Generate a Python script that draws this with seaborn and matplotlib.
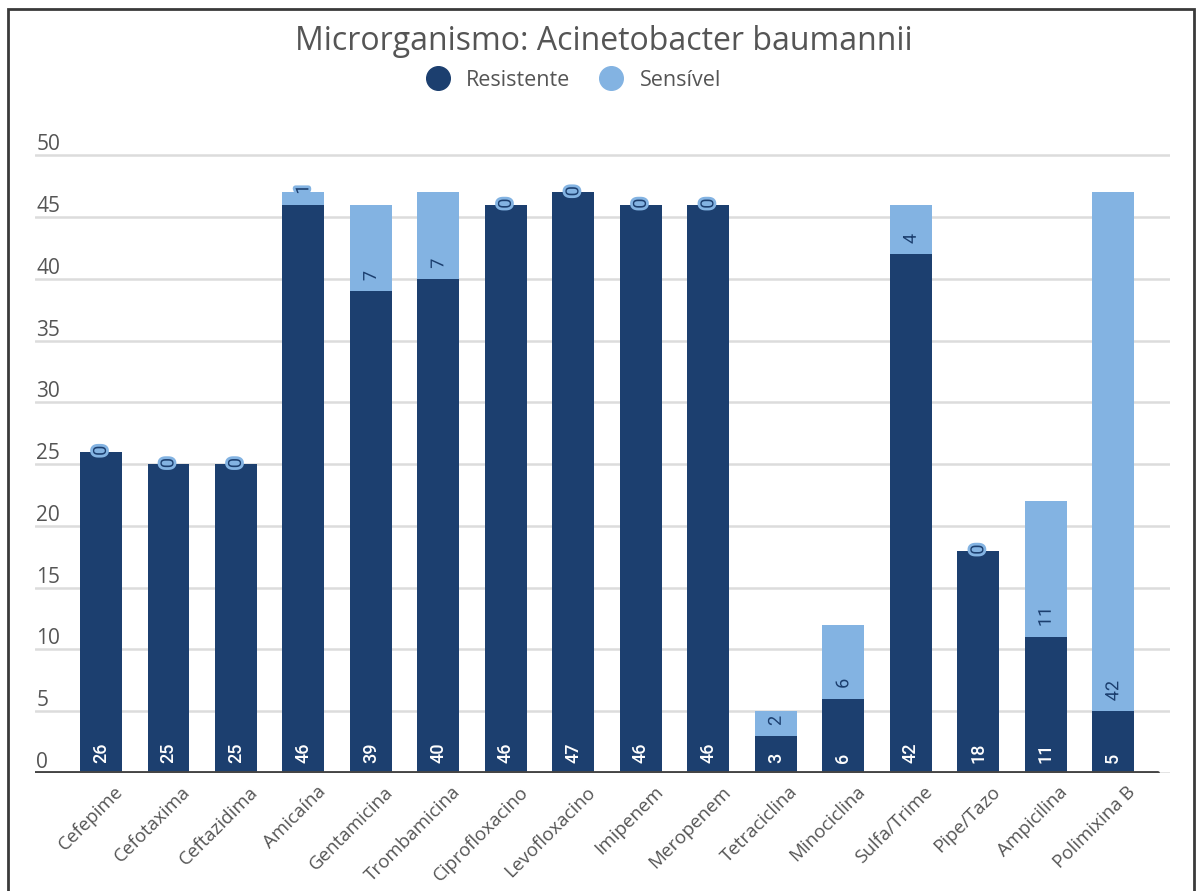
import pandas as pd
import matplotlib.pyplot as plt
import matplotlib.patheffects as pe
import matplotlib.transforms as mtransforms
from matplotlib.lines import Line2D
from matplotlib.patches import Rectangle
import seaborn as sns

# Data
antibioticos = ["Cefepime", "Cefotaxima", "Ceftazidima", "Amicaína", "Gentamicina",
                "Trombamicina", "Ciprofloxacino", "Levofloxacino", "Imipenem", "Meropenem",
                "Tetraciclina", "Minociclina", "Sulfa/Trime", "Pipe/Tazo", "Ampicilina",
                "Polimixina B"]
resistente = [26, 25, 25, 46, 39, 40, 46, 47, 46, 46, 3, 6, 42, 18, 11, 5]
sensivel = [0, 0, 0, 1, 7, 7, 0, 0, 0, 0, 2, 6, 4, 0, 11, 42]
y_ticks = [0, 5, 10, 15, 20, 25, 30, 35, 40, 45, 50]

DARK = "#1c3f6f"
LIGHT = "#83b3e2"
GRAY = "#555555"

df = pd.DataFrame({"Antibiotico": antibioticos,
                   "Resistente": resistente,
                   "Sensivel": sensivel})
df["Total"] = df["Resistente"] + df["Sensivel"]

sns.set_style("white")
plt.rcParams["font.family"] = ["Open Sans", "DejaVu Sans"]

fig = plt.figure(figsize=(12, 8.91), dpi=100)
ax = fig.add_axes([0.029, 0.1324, 0.946, 0.6976])

# stacked bars: total (light) behind, resistant (dark) in front
sns.barplot(data=df, x="Antibiotico", y="Total", color=LIGHT, width=0.62,
            saturation=1, linewidth=0, ax=ax)
sns.barplot(data=df, x="Antibiotico", y="Resistente", color=DARK, width=0.62,
            saturation=1, linewidth=0, ax=ax)

ax.set_xlim(-0.98, 15.84)
ax.set_ylim(0, 50.3)
ax.set_xlabel("")
ax.set_ylabel("")

# grid
ax.set_yticks(y_ticks)
ax.yaxis.grid(True, color="#dcdcdc", linewidth=1.8)
ax.set_axisbelow(True)
for s in ["top", "right", "left", "bottom"]:
    ax.spines[s].set_visible(False)
ax.axhline(0, xmin=0, xmax=0.989, color="#454545", linewidth=2.8, zorder=5)

# y tick labels inside, above the gridline
ax.tick_params(axis="y", length=0, pad=-1, labelsize=15, labelcolor=GRAY)
ax.set_yticklabels([str(t) for t in y_ticks], ha="left", va="bottom")

# x tick labels
ax.tick_params(axis="x", length=0, pad=7, labelsize=13.5, labelcolor=GRAY)
ax.set_xticks(range(len(antibioticos)))
ax.set_xticklabels(antibioticos, rotation=45, ha="right", rotation_mode="anchor")
shift = mtransforms.ScaledTranslation(13 / 100, 0, fig.dpi_scale_trans)
for lab in ax.get_xticklabels():
    lab.set_transform(lab.get_transform() + shift)

# value labels
num_font = ["Roboto", "DejaVu Sans"]
outline = [pe.Stroke(linewidth=4, foreground=LIGHT), pe.Normal()]
for i, (r, s) in enumerate(zip(resistente, sensivel)):
    ax.annotate(str(r), (i, 0), xytext=(0, 10), textcoords="offset pixels",
                rotation=90, ha="center", va="bottom", color="white",
                fontsize=13, fontweight="medium", family=num_font, zorder=6)
    if s > 0:
        ax.annotate(str(s), (i, r), xytext=(0, 10), textcoords="offset pixels",
                    rotation=90, ha="center", va="bottom", color=DARK,
                    fontsize=13, family=num_font, path_effects=outline, zorder=6)
    else:
        ax.annotate("0", (i, r), xytext=(0, 1), textcoords="offset pixels",
                    rotation=90, ha="center", va="center", color=DARK,
                    fontsize=13, family=num_font, path_effects=outline, zorder=6)

# title and legend
fig.text(0.503, 0.953, "Microrganismo: Acinetobacter baumannii", ha="center",
         va="center", fontsize=23, color=GRAY)
handles = [Line2D([], [], marker="o", linestyle="", markersize=17, color=DARK),
           Line2D([], [], marker="o", linestyle="", markersize=17, color=LIGHT)]
fig.legend(handles, ["Resistente", "Sensível"], loc="center", ncol=2,
           bbox_to_anchor=(0.474, 0.910), frameon=False, fontsize=15.5,
           labelcolor=GRAY, handletextpad=0.3, columnspacing=0.9)

# outer frame
fig.patches.append(Rectangle((0.007, -0.02), 0.988, 1.01, transform=fig.transFigure,
                             fill=False, edgecolor="#3a3a3a", linewidth=2))

fig.savefig("out.png", dpi=100)
